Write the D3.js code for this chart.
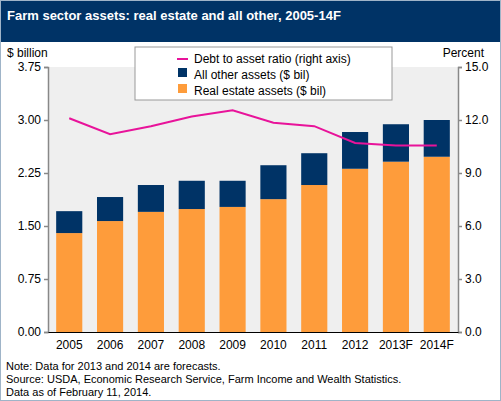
<!DOCTYPE html>
<html><head><meta charset="utf-8">
<script src="https://cdn.jsdelivr.net/npm/d3@7"></script>
<style>body{margin:0;background:#fff}text{font-family:Arial,"Liberation Sans",sans-serif}</style>
</head><body><svg></svg>
<script>
let years = ['2005','2006','2007','2008','2009','2010','2011','2012','2013F','2014F'];
let realEstate = [1.40,1.57,1.70,1.74,1.77,1.88,2.08,2.31,2.41,2.48];
let allOther = [0.31,0.34,0.38,0.40,0.37,0.48,0.45,0.52,0.53,0.52];
let debtRatio = [12.1,11.2,11.65,12.2,12.55,11.85,11.65,10.7,10.55,10.55];
let leftTicks = [0,0.75,1.5,2.25,3.0,3.75];
let rightTicks = [0,3,6,9,12,15];

let width = 501, height = 401;
let m = {left: 48, right: 458, top: 67, bottom: 332};
let svg = d3.select('svg').attr('width', width).attr('height', height);

svg.append('rect').attr('x', 0.5).attr('y', 0.5).attr('width', width - 1).attr('height', height - 1)
    .attr('fill', '#fff').attr('stroke', '#9fb4c8');
svg.append('rect').attr('x', 1).attr('y', 1).attr('width', width - 2).attr('height', 41).attr('fill', '#003366');
svg.append('text').attr('x', 7).attr('y', 20).attr('fill', '#fff').attr('font-size', 13).attr('font-weight', 'bold')
    .text('Farm sector assets: real estate and all other, 2005-14F');

let x = d3.scaleBand().domain(years).range([m.left, m.right]).paddingInner(0.36).paddingOuter(0.2);
let yL = d3.scaleLinear().domain([0, 3.75]).range([m.bottom, m.top]);
let yR = d3.scaleLinear().domain([0, 15]).range([m.bottom, m.top]);

svg.append('rect').attr('x', m.left).attr('y', m.top).attr('width', m.right - m.left).attr('height', m.bottom - m.top)
    .attr('fill', '#efefef');

svg.selectAll('.re').data(years).enter().append('rect')
    .attr('x', d => x(d)).attr('width', x.bandwidth())
    .attr('y', (d, i) => yL(realEstate[i])).attr('height', (d, i) => yL(0) - yL(realEstate[i]))
    .attr('fill', '#fe9c3b');
svg.selectAll('.ao').data(years).enter().append('rect')
    .attr('x', d => x(d)).attr('width', x.bandwidth())
    .attr('y', (d, i) => yL(realEstate[i] + allOther[i])).attr('height', (d, i) => yL(realEstate[i]) - yL(realEstate[i] + allOther[i]))
    .attr('fill', '#003366');

let line = d3.line().x((d, i) => x(years[i]) + x.bandwidth() / 2).y(d => yR(d));
svg.append('path').datum(debtRatio).attr('d', line).attr('fill', 'none').attr('stroke', '#e8139a').attr('stroke-width', 2);

let axL = svg.append('g').attr('transform', `translate(${m.left},0)`)
    .call(d3.axisLeft(yL).tickValues(leftTicks).tickFormat(d3.format('.2f')).tickSize(4));
let axR = svg.append('g').attr('transform', `translate(${m.right},0)`)
    .call(d3.axisRight(yR).tickValues(rightTicks).tickFormat(d3.format('.1f')).tickSize(4));
let axB = svg.append('g').attr('transform', `translate(0,${m.bottom})`)
    .call(d3.axisBottom(x).tickSize(0).tickPadding(8));
[axL, axR, axB].forEach(a => {
    a.selectAll('path,line').attr('stroke', '#888').attr('stroke-width', 1.5);
    a.selectAll('text').attr('font-size', 12).attr('fill', '#000').style('font-family', 'Arial,"Liberation Sans",sans-serif');
});
axB.select('.domain').attr('stroke', '#000').attr('stroke-width', 1);

svg.append('text').attr('x', 7).attr('y', 57).attr('font-size', 12).text('$ billion');
svg.append('text').attr('x', 484).attr('y', 57).attr('font-size', 12).attr('text-anchor', 'end').text('Percent');

let lg = svg.append('g');
lg.append('rect').attr('x', 135).attr('y', 47).attr('width', 257).attr('height', 53).attr('fill', '#fff').attr('stroke', '#999');
lg.append('line').attr('x1', 177).attr('x2', 188).attr('y1', 59).attr('y2', 59).attr('stroke', '#e8139a').attr('stroke-width', 2);
lg.append('rect').attr('x', 178).attr('y', 68).attr('width', 9).attr('height', 9).attr('fill', '#003366');
lg.append('rect').attr('x', 178).attr('y', 84).attr('width', 9).attr('height', 9).attr('fill', '#fe9c3b');
[['Debt to asset ratio (right axis)', 63], ['All other assets ($ bil)', 79], ['Real estate assets ($ bil)', 95]].forEach(t => {
    lg.append('text').attr('x', 194).attr('y', t[1]).attr('font-size', 12).text(t[0]);
});

['Note: Data for 2013 and 2014 are forecasts.',
 'Source: USDA, Economic Research Service, Farm Income and Wealth Statistics.',
 'Data as of February 11, 2014.'].forEach((t, i) => {
    svg.append('text').attr('x', 6).attr('y', 370 + i * 13).attr('font-size', 11).text(t);
});
</script></body></html>
